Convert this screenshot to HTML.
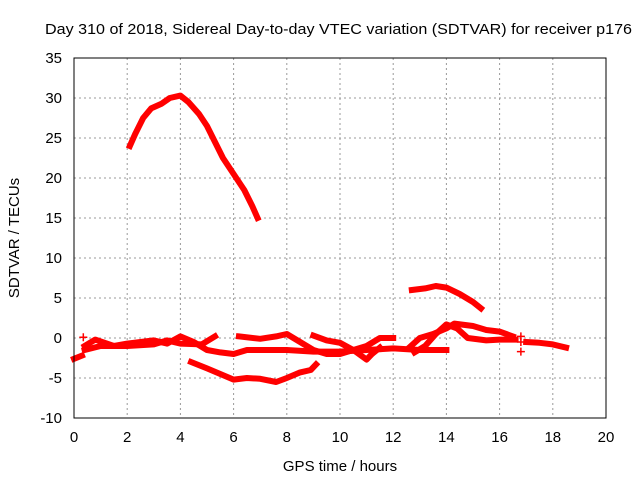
<!DOCTYPE html>
<html><head><meta charset="utf-8"><style>
body{margin:0;background:#fff}
svg text{font-family:"Liberation Sans",sans-serif;font-size:14px;fill:#000}
</style></head><body>
<svg id="c" width="640" height="480">
<text x="45" y="34" textLength="587" lengthAdjust="spacingAndGlyphs" style="font-size:15px">Day 310 of 2018, Sidereal Day-to-day VTEC variation (SDTVAR) for receiver p176</text>
<text x="340" y="471" text-anchor="middle" style="font-size:15px">GPS time / hours</text>
<text transform="translate(19,238) rotate(-90)" text-anchor="middle" style="font-size:15px">SDTVAR / TECUs</text>
<g id="grid"></g><g id="marks"></g>
<rect x="74" y="58" width="532" height="360" fill="none" stroke="#000" stroke-width="1"/>
</svg>
<script>
const xTicks=[0,2,4,6,8,10,12,14,16,18,20];
const yTicks=[-10,-5,0,5,10,15,20,25,30,35];
const trackArc=[[2.1,24],[2.3,25.5],[2.6,27.5],[2.9,28.7],[3.3,29.3],[3.6,30],[4.0,30.3],[4.3,29.5],[4.7,28],[5.0,26.5],[5.3,24.5],[5.6,22.5],[6.0,20.5],[6.4,18.5],[6.7,16.5],[6.9,15]];
const trackHigh=[[12.7,6],[13.2,6.2],[13.6,6.5],[14.0,6.3],[14.5,5.5],[15.0,4.5],[15.3,3.7]];
const trackLow=[[4.4,-3],[5,-3.8],[5.5,-4.5],[6,-5.2],[6.5,-5],[7,-5.1],[7.6,-5.5],[8,-5],[8.5,-4.3],[8.9,-4],[9.1,-3.3]];
const trackStart=[[0,-2.6],[0.3,-2.2]];
const trackMain=[[0.4,-1],[0.8,-0.2],[1.5,-1],[2,-0.7],[3,-0.3],[3.5,-0.7],[4,0.2],[4.5,-0.5],[5,-1.5],[5.5,-1.8],[6,-2],[6.5,-1.5],[7,-1.5],[8,-1.5],[9,-1.7],[10,-1.7],[11,-1.5],[12,-1.3],[13,-1.5],[14,-1.5]];
const trackE=[[0.4,-1.5],[1,-1],[2,-1],[3,-0.8],[3.5,-0.3],[4,-0.7],[4.8,-0.8],[5.3,0.2]];
const trackF=[[6.2,0.2],[7,-0.1],[7.6,0.2],[8,0.5],[8.5,-0.5],[9,-1.5],[9.5,-2],[10,-2],[10.5,-1.5],[11,-1],[11.5,0],[12,0]];
const trackG=[[9,0.3],[9.5,-0.3],[10,-0.6],[10.5,-1.5],[11,-2.7],[11.2,-2],[11.5,-1.2]];
const trackH=[[12.6,-1.2],[13,0],[13.5,0.5],[14,1.2],[14.3,1.8],[15,1.5],[15.5,1.0],[16,0.8],[16.5,0.2]];
const trackI=[[12.8,-1.8],[13.2,-1],[13.6,0.5],[14,1.7],[14.4,1.2],[14.8,0],[15.5,-0.3],[16,-0.2],[16.6,-0.2]];
const trackJ=[[17,-0.5],[17.5,-0.6],[18,-0.8],[18.5,-1.2]];
const tracks=[trackArc,trackHigh,trackLow,trackStart,trackMain,trackE,trackF,trackG,trackH,trackI,trackJ];
const loosePts=[[16.8,0.2],[16.8,-0.5],[16.8,-1.7],[0.35,0.1]];
const NS="http://www.w3.org/2000/svg";
const X=v=>74+v*26.6, Y=v=>338-v*8;
const grid=document.getElementById('grid'), marks=document.getElementById('marks');
function mk(t,a,p){const e=document.createElementNS(NS,t);for(const k in a)e.setAttribute(k,a[k]);p.appendChild(e);return e;}
xTicks.forEach(t=>{
 if(t>0&&t<20){const l=mk('line',{x1:X(t),x2:X(t),y1:58,y2:418,stroke:'#999','stroke-dasharray':'2,3'},grid);
 
 }
 const tx=mk('text',{x:X(t),y:442,'text-anchor':'middle',style:'font-size:15px'},grid);tx.textContent=t;
 
 
});
yTicks.forEach(t=>{
 if(t>-10&&t<35){const l=mk('line',{x1:74,x2:606,y1:Y(t),y2:Y(t),stroke:'#999','stroke-dasharray':'2,3'},grid);
 
 }
 const tx=mk('text',{x:62,y:Y(t)+5,'text-anchor':'end',style:'font-size:15px'},grid);tx.textContent=t;
 
 
});
tracks.forEach(tr=>{
 const p=mk('polyline',{points:tr.map(d=>X(d[0])+','+Y(d[1])).join(' '),fill:'none',stroke:'#f00','stroke-width':6,'stroke-linejoin':'round','stroke-linecap':'square'},marks);
 
 
});
loosePts.forEach(d=>{
 const p=mk('path',{d:`M${X(d[0])-4},${Y(d[1])}h8M${X(d[0])},${Y(d[1])-4}v8`,stroke:'#f00','stroke-width':1.5},marks);
 
 
});
</script>
</body></html>
